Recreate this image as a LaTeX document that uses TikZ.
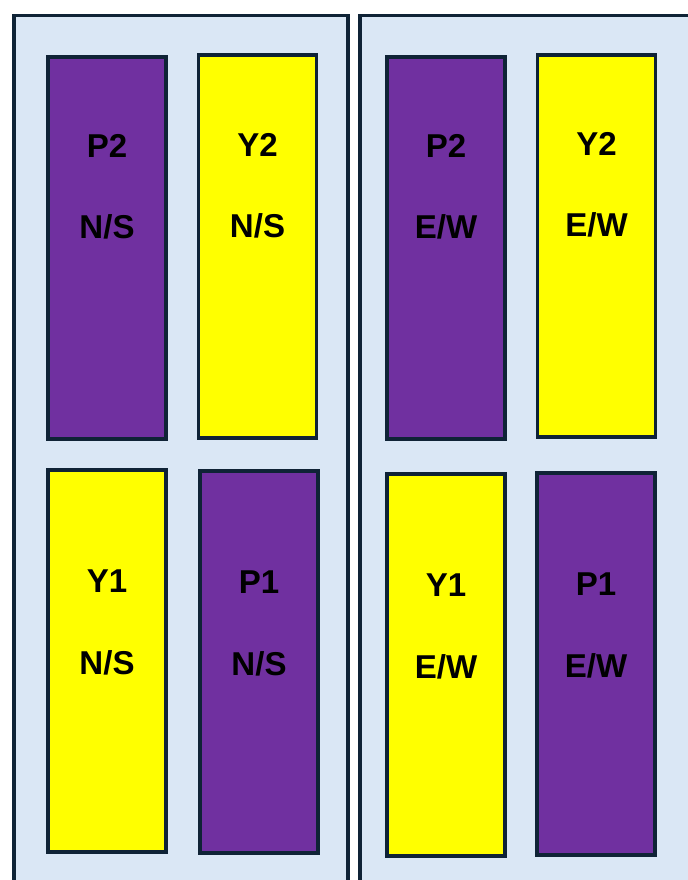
\documentclass[tikz,border=0pt]{standalone}
\usepackage{fontspec}
\setmainfont{Liberation Sans}
\usetikzlibrary{positioning}
\definecolor{LaneInk}{HTML}{0F2336}
\definecolor{LanePanel}{HTML}{DAE7F5}
\definecolor{LanePurple}{HTML}{7030A0}
\definecolor{LaneYellow}{HTML}{FFFF00}
\newcommand{\dirNS}{N/S}
\newcommand{\dirEW}{E/W}
\tikzset{
  lane/panel/.style={
    draw=LaneInk, line width=2.8pt, fill=LanePanel
  },
  lane/box/.style={
    draw=LaneInk, line width=2.8pt, inner sep=0pt,
    minimum width=2.95cm, minimum height=9.55cm
  },
  lane/purple/.style={lane/box, fill=LanePurple},
  lane/yellow/.style={lane/box, fill=LaneYellow},
  lane/label/.style={
    font=\fontsize{23.5}{28}\selectfont\bfseries, text=black, inner sep=0pt
  }
}

\begin{document}
\begin{tikzpicture}[x=0.025cm,y=-0.025cm]
  \useasboundingbox (0,0) rectangle (688,880);
  % approach panels
  \draw[lane/panel] (14,15.5) rectangle (348,900);
  \draw[lane/panel] (360,15.5) rectangle (720,900);
  % north/south phases
  \node[lane/purple] (nsP2) at (107,248) {};
  \node[lane/yellow] (nsY2) at (257.5,246.5) {};
  \node[lane/yellow] (nsY1) at (107,661) {};
  \node[lane/purple] (nsP1) at (259,662) {};
  % east/west phases
  \node[lane/purple] (ewP2) at (446,248) {};
  \node[lane/yellow] (ewY2) at (596.5,246) {};
  \node[lane/yellow] (ewY1) at (446,665) {};
  \node[lane/purple] (ewP1) at (596,664) {};
  % labels
  \foreach \b/\t/\d in {nsP2/P2/\dirNS,nsY2/Y2/\dirNS,ewP2/P2/\dirEW,ewY2/Y2/\dirEW}{
    \node[lane/label] (\b-phase) at ([yshift=2.55cm]\b.center) {\t};
    \node[lane/label] (\b-dir) at ([yshift=.525cm]\b.center) {\d};
  }
  \foreach \b/\t/\d in {nsY1/Y1/\dirNS,nsP1/P1/\dirNS,ewY1/Y1/\dirEW,ewP1/P1/\dirEW}{
    \node[lane/label] (\b-phase) at ([yshift=2.0cm]\b.center) {\t};
    \node[lane/label] (\b-dir) at ([yshift=-.05cm]\b.center) {\d};
  }
\end{tikzpicture}
\end{document}
